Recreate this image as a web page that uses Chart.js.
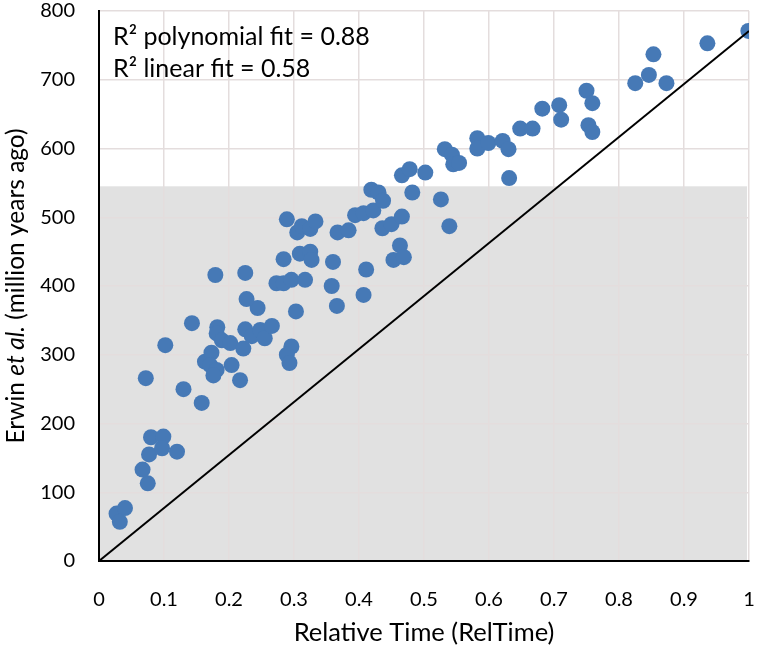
<!DOCTYPE html>
<html><head><meta charset="utf-8">
<script src="https://cdn.jsdelivr.net/npm/chart.js@4"></script>
<style>html,body{margin:0;padding:0;background:#fff;} canvas{display:block;}</style>
</head><body>
<canvas id="c" width="761" height="651"></canvas>
<script>
// ---- data ----
const relTime = [0.027,0.040,0.032,0.075,0.067,0.077,0.080,0.099,0.097,0.120,
  0.072,0.130,0.158,0.102,0.143,0.163,0.173,0.171,0.181,0.176,
  0.182,0.181,0.189,0.202,0.204,0.217,0.222,0.225,0.235,0.248,
  0.255,0.266,0.244,0.227,0.303,0.296,0.289,0.293,0.179,0.225,
  0.273,0.284,0.296,0.317,0.284,0.309,0.325,0.327,0.289,0.305,
  0.312,0.325,0.333,0.367,0.384,0.360,0.358,0.366,0.407,0.411,
  0.394,0.407,0.422,0.419,0.430,0.437,0.436,0.450,0.466,0.463,
  0.453,0.469,0.466,0.478,0.502,0.482,0.526,0.539,0.532,0.543,
  0.545,0.554,0.582,0.582,0.599,0.621,0.630,0.631,0.648,0.667,
  0.682,0.708,0.711,0.750,0.759,0.753,0.759,0.825,0.846,0.853,
  0.873,0.936,0.999];
const erwinAge = [69,77,57,113,133,155,180,181,164,159,
  266,250,230,314,346,290,303,285,278,270,
  340,331,321,317,285,263,309,337,327,336,
  324,342,368,381,363,312,300,288,416,419,
  404,404,409,409,439,447,450,438,497,478,
  487,483,494,478,481,435,400,371,387,424,
  503,506,510,540,536,524,484,490,501,459,
  438,442,561,570,565,536,526,487,599,591,
  577,579,615,600,608,611,599,557,629,629,
  658,663,642,684,666,634,624,695,707,737,
  695,753,771];
const refLineX = [0, 1];
const refLineY = [0, 771];
const shadedAgeTop = 545;
const annotationLines = ['R\u00B2 polynomial fit = 0.88', 'R\u00B2 linear fit = 0.58'];
const xTitle = 'Relative Time (RelTime)';
const yTitleParts = [['Erwin ', false], ['et al.', true], [' (million years ago)', false]];

const FONT = 'Lato';
const pts = relTime.map((x, i) => ({x: x, y: erwinAge[i]}));
const linePts = refLineX.map((x, i) => ({x: x, y: refLineY[i]}));

const decor = {
  id: 'decor',
  beforeDraw(chart) {
    const {ctx, scales: {x, y}} = chart;
    ctx.save();
    ctx.fillStyle = '#e1e1e1';
    const l = x.getPixelForValue(0), r = x.getPixelForValue(0.997);
    const t = y.getPixelForValue(shadedAgeTop), b = y.getPixelForValue(0);
    ctx.fillRect(l, t, r - l, b - t);
    ctx.restore();
  },
  afterDraw(chart) {
    const {ctx, chartArea} = chart;
    ctx.save();
    ctx.fillStyle = '#000';
    ctx.textBaseline = 'alphabetic';
    ctx.textAlign = 'left';
    ctx.font = '25px ' + FONT;
    ctx.fillText(annotationLines[0], 113, 45);
    ctx.fillText(annotationLines[1], 113, 77);
    // x title
    ctx.textAlign = 'center';
    ctx.font = '25.5px ' + FONT;
    ctx.fillText(xTitle, (chartArea.left + chartArea.right) / 2, 641);
    // y title
    ctx.textAlign = 'left';
    const fonts = yTitleParts.map(p => (p[1] ? 'italic ' : '') + '24.5px ' + FONT);
    let total = 0;
    const widths = yTitleParts.map((p, i) => { ctx.font = fonts[i]; const w = ctx.measureText(p[0]).width; total += w; return w; });
    ctx.translate(24, (chartArea.top + chartArea.bottom) / 2);
    ctx.rotate(-Math.PI / 2);
    let cx = -total / 2;
    yTitleParts.forEach((p, i) => { ctx.font = fonts[i]; ctx.fillText(p[0], cx, 0); cx += widths[i]; });
    ctx.restore();
  }
};

function noPad(s) { s.paddingTop = 0; s.paddingBottom = 0; s.paddingLeft = 0; s.paddingRight = 0; }

new Chart(document.getElementById('c'), {
  type: 'scatter',
  data: {
    datasets: [
      {data: linePts, type: 'line', showLine: true, borderColor: '#000', borderWidth: 2, pointRadius: 0, fill: false, order: 0},
      {data: pts, backgroundColor: '#4679b6', borderWidth: 0, pointRadius: 8, pointHoverRadius: 8, order: 1}
    ]
  },
  options: {
    responsive: false,
    animation: false,
    events: [],
    layout: {padding: {top: 11, right: 12, left: 0, bottom: 0}},
    plugins: {legend: {display: false}, tooltip: {enabled: false}},
    scales: {
      x: {
        type: 'linear', min: 0, max: 1,
        afterFit(s) { s.height = 90; noPad(s); },
        grid: {color: '#e4dddd', lineWidth: 1.5, drawTicks: false},
        border: {color: '#000', width: 2},
        ticks: {stepSize: 0.1, padding: 27, color: '#000', font: {family: FONT, size: 20},
          callback: v => String(Number(v.toFixed(1)))}
      },
      y: {
        min: 0, max: 800,
        afterFit(s) { s.width = 99; noPad(s); },
        grid: {color: '#e4dddd', lineWidth: 1.5, drawTicks: false},
        border: {color: '#000', width: 2},
        ticks: {stepSize: 100, padding: 24, color: '#000', font: {family: FONT, size: 20}}
      }
    }
  },
  plugins: [decor]
});
</script>
</body></html>
